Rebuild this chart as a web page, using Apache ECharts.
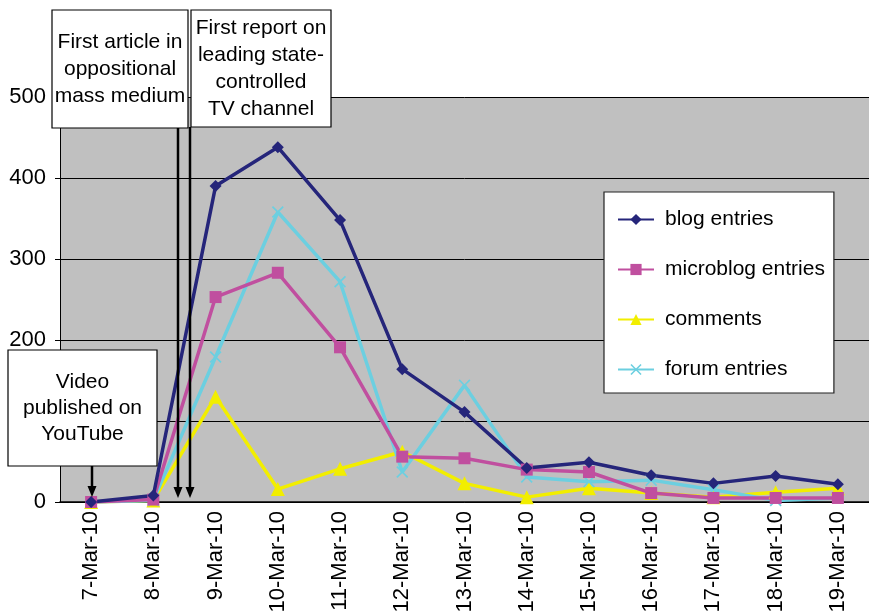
<!DOCTYPE html>
<html>
<head>
<meta charset="utf-8">
<script src="https://cdn.jsdelivr.net/npm/echarts@6/dist/echarts.min.js"></script>
<style>
  html, body { margin: 0; padding: 0; background: #fff; }
  #chart { width: 869px; height: 616px; }
</style>
</head>
<body>
<div id="chart"></div>
<script>
// 数据
var dates = ['7-Mar-10', '8-Mar-10', '9-Mar-10', '10-Mar-10', '11-Mar-10', '12-Mar-10', '13-Mar-10',
    '14-Mar-10', '15-Mar-10', '16-Mar-10', '17-Mar-10', '18-Mar-10', '19-Mar-10'];
var blogEntries = [0, 8, 390, 438, 348, 164, 111, 42, 49, 33, 23, 32, 22];
var microblogEntries = [0, 3, 253, 283, 191, 56, 54, 40, 37, 11, 5, 5, 5];
var comments = [0, 2, 130, 16, 41, 62, 23, 6, 17, 11, 6, 12, 17];
var forumEntries = [0, 2, 179, 358, 272, 37, 144, 31, 25, 27, 15, 2, 5];
var yTicks = [0, 100, 200, 300, 400, 500];

var FONT = '"Liberation Sans", Arial, sans-serif';
var crossIcon = 'path://M0,1 L1,0 L5,4 L9,0 L10,1 L6,5 L10,9 L9,10 L5,6 L1,10 L0,9 L4,5 Z';

var myChart = echarts.init(document.getElementById('chart'));

function mkSeries(name, data, color, symbol, size) {
    return {
        name: name,
        type: 'line',
        data: data,
        symbol: symbol,
        symbolSize: size,
        showAllSymbol: true,
        lineStyle: { color: color, width: 3.5 },
        itemStyle: { color: color },
        animation: false
    };
}

// 注释框
function box(x, y, w, h, text, lh) {
    return [{
        type: 'rect', z: 100,
        shape: { x: x, y: y, width: w, height: h },
        style: { fill: '#fff', stroke: '#000', lineWidth: 1.2 }
    }, {
        type: 'text', z: 101,
        x: x + w / 2, y: y + h / 2,
        style: {
            text: text, fill: '#000', font: '21px ' + FONT,
            align: 'center', verticalAlign: 'middle', lineHeight: lh
        }
    }];
}

function arrow(x, y1, y2) {
    return [{
        type: 'line', z: 100,
        shape: { x1: x, y1: y1, x2: x, y2: y2 - 8 },
        style: { stroke: '#000', lineWidth: 2.5 }
    }, {
        type: 'polygon', z: 100,
        shape: { points: [[x - 4.5, y2 - 11], [x + 4.5, y2 - 11], [x, y2]] },
        style: { fill: '#000' }
    }];
}

var graphics = [].concat(
    arrow(178, 128, 498),
    arrow(190, 127, 498),
    arrow(92, 466, 497),
    box(52, 10, 136, 118, 'First article in\noppositional\nmass medium', 27),
    box(191, 10, 140, 117, 'First report on\nleading state-\ncontrolled\nTV channel', 27),
    box(8, 350, 149, 116, 'Video\npublished on\nYouTube', 26)
);

var option = {
    backgroundColor: '#fff',
    animation: false,
    textStyle: { fontFamily: FONT },
    grid: {
        left: 60, top: 97, right: -3, bottom: 114,
        show: true, backgroundColor: '#c0c0c0', borderWidth: 0
    },
    legend: {
        orient: 'vertical',
        left: 604, top: 192,
        padding: [17, 9, 13, 13],
        itemGap: 29,
        itemWidth: 36, itemHeight: 14,
        backgroundColor: '#fff',
        borderColor: '#222', borderWidth: 1.2,
        textStyle: { fontSize: 21, color: '#000', fontFamily: FONT, padding: [0, 0, 0, 6] },
        data: ['blog entries', 'microblog entries', 'comments', 'forum entries']
    },
    xAxis: {
        type: 'category',
        data: dates,
        boundaryGap: true,
        axisLine: { lineStyle: { color: '#000', width: 1.5 } },
        axisTick: { show: false },
        axisLabel: { rotate: 90, fontSize: 22, color: '#000', margin: 9, interval: 0 },
        splitLine: { show: false }
    },
    yAxis: {
        type: 'value',
        min: yTicks[0], max: yTicks[yTicks.length - 1], interval: 100,
        axisLine: { show: true, lineStyle: { color: '#000', width: 1 } },
        axisTick: { show: true, length: 5, lineStyle: { color: '#000' } },
        axisLabel: { fontSize: 22, color: '#000', margin: 14 },
        splitLine: { show: true, lineStyle: { color: '#000', width: 1 } }
    },
    series: [
        mkSeries('comments', comments, '#f2ee00', 'triangle', 14),
        mkSeries('forum entries', forumEntries, '#6ccfe0', crossIcon, 12),
        mkSeries('microblog entries', microblogEntries, '#c04f9f', 'rect', 12),
        mkSeries('blog entries', blogEntries, '#25257a', 'diamond', 12)
    ],
    graphic: graphics
};

myChart.setOption(option);
</script>
</body>
</html>
